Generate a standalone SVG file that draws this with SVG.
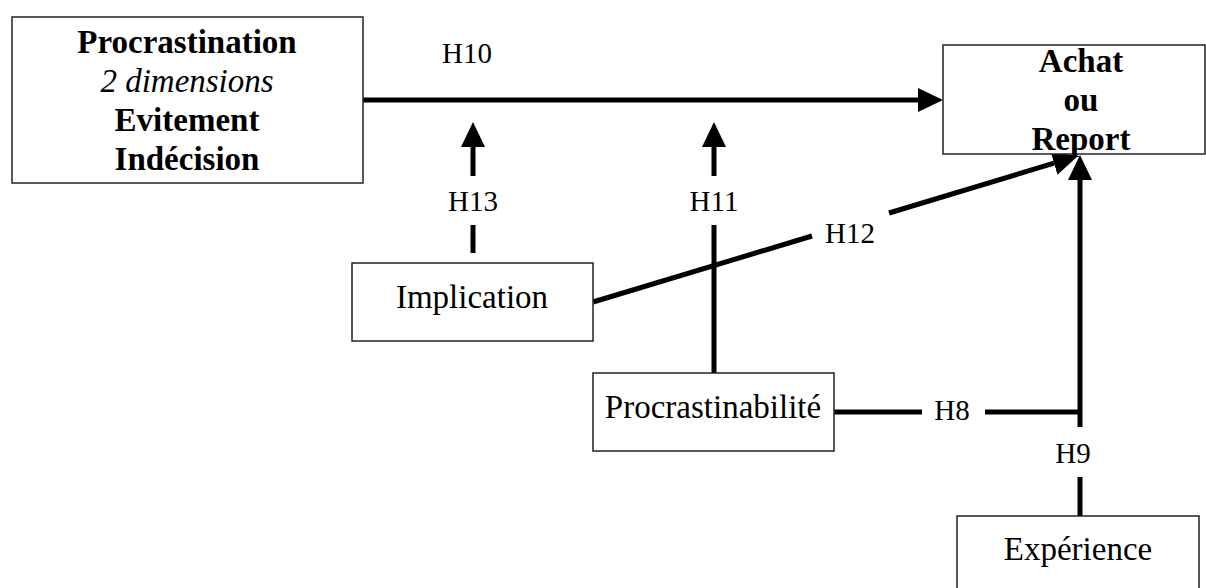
<svg xmlns="http://www.w3.org/2000/svg" width="1206" height="588" viewBox="0 0 1206 588">
<style>
.box{fill:#fff;stroke:#222;stroke-width:1.5}
.t{font-family:"Liberation Serif","Times New Roman",serif;font-size:33px;fill:#000;text-anchor:middle}
.b{font-weight:bold}
.i{font-style:italic}
.lbl{font-family:"Liberation Serif","Times New Roman",serif;font-size:29px;fill:#000;text-anchor:middle}
.c{stroke:#000;stroke-width:5;fill:none}
</style>
<defs>
<marker id="ah" markerUnits="userSpaceOnUse" viewBox="0 0 25 24" refX="0" refY="12" markerWidth="25" markerHeight="24" orient="auto">
<path d="M0,0 L25,12 L0,24 Z" fill="#000"/>
</marker>
</defs>
<rect width="1206" height="588" fill="#fff"/>
<g id="connectors">
<line class="c" x1="363" y1="100" x2="918" y2="100" marker-end="url(#ah)"/>
<line class="c" x1="473" y1="176" x2="473" y2="147" marker-end="url(#ah)"/>
<line class="c" x1="473" y1="253" x2="473" y2="225"/>
<line class="c" x1="714" y1="176" x2="714" y2="147" marker-end="url(#ah)"/>
<line class="c" x1="714" y1="373" x2="714" y2="225"/>
<line class="c" x1="593" y1="302" x2="812" y2="236"/>
<line class="c" x1="889" y1="213" x2="1054" y2="163.2" marker-end="url(#ah)"/>
<line class="c" x1="834" y1="412" x2="922" y2="412"/>
<line class="c" x1="985" y1="412" x2="1080" y2="412"/>
<line class="c" x1="1080" y1="427" x2="1080" y2="180" marker-end="url(#ah)"/>
<line class="c" x1="1080" y1="516" x2="1080" y2="477"/>
<text class="lbl" x="467" y="63">H10</text>
<text class="lbl" x="473" y="211">H13</text>
<text class="lbl" x="714" y="211">H11</text>
<text class="lbl" x="850" y="243">H12</text>
<text class="lbl" x="952" y="420">H8</text>
<text class="lbl" x="1073" y="463">H9</text>
</g>
<g id="procrastination">
<rect class="box" x="12" y="17" width="351" height="166"/>
<text class="t b" x="187" y="53">Procrastination</text>
<text class="t i" x="187" y="92">2 dimensions</text>
<text class="t b" x="187" y="131">Evitement</text>
<text class="t b" x="187" y="170">Indécision</text>
</g>
<g id="achat">
<rect class="box" x="943" y="45" width="262" height="109"/>
<text class="t b" x="1081" y="72">Achat</text>
<text class="t b" x="1081" y="111">ou</text>
<text class="t b" x="1081" y="150">Report</text>
</g>
<g id="implication">
<rect class="box" x="352" y="263" width="241" height="78"/>
<text class="t" x="472" y="308">Implication</text>
</g>
<g id="procrastinabilite">
<rect class="box" x="593" y="373" width="241" height="78"/>
<text class="t" x="713" y="418">Procrastinabilité</text>
</g>
<g id="experience">
<rect class="box" x="957" y="516" width="242" height="76"/>
<text class="t" x="1078" y="560">Expérience</text>
</g>
</svg>
